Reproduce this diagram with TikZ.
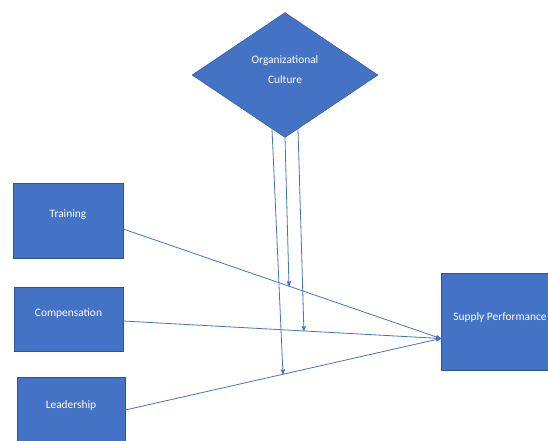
\documentclass[tikz,border=0pt]{standalone}
\usepackage{fontspec}
\setmainfont{Carlito}
\usetikzlibrary{arrows,shapes.geometric}
\definecolor{boxblue}{HTML}{4472C4}
\definecolor{edgeblue}{HTML}{2F528F}

\begin{document}
\begin{tikzpicture}[x=1pt,y=-1pt,>=stealth',shorten >=0pt,thin,
  var node/.style={rectangle,draw=edgeblue,fill=boxblue,text=white,font=\fontsize{11.4}{20}\selectfont,inner sep=0pt,text height=8pt,text depth=#1},
  var node/.default=2pt,
  mod node/.style={diamond,draw=edgeblue,fill=boxblue,inner sep=0pt,minimum width=186pt,minimum height=125pt},
  mod text/.style={text=white,font=\fontsize{11.4}{20}\selectfont,align=center,yshift=5pt},
  link/.style={->,draw=boxblue,line width=0.8pt}]

  \useasboundingbox (0,0) rectangle (548,441);

  \node[var node=15pt,minimum width=110pt,minimum height=75pt] (tr) at (68,220.5) {Training};
  \node[var node=13pt,minimum width=109pt,minimum height=64pt] (co) at (68.5,319) {Compensation};
  \node[var node=9pt,minimum width=108pt,minimum height=64pt] (le) at (71,409) {Leadership};
  \node[var node=10pt,minimum width=118pt,minimum height=97pt] (sp) at (500,321.5) {Supply Performance};
  \node[mod node,label={[mod text]center:{Organizational\\Culture}}] (oc) at (285,75) {};

  \coordinate (sp in) at ([yshift=-17pt]sp.west);
  \coordinate (tr out) at ([yshift=-8.5pt]tr.east);
  \coordinate (co out) at ([yshift=-2pt]co.east);
  \coordinate (le out) at ([yshift=-1pt]le.east);

  \draw[link] (tr out) -- (sp in);
  \draw[link] (co out) -- (sp in);
  \draw[link] (le out) -- (sp in);

  % points where the moderator hits each path
  \path (tr out) -- (sp in) coordinate[pos=0.522] (tr hit);
  \path (co out) -- (sp in) coordinate[pos=0.569] (co hit);
  \path (le out) -- (sp in) coordinate[pos=0.5] (le hit);

  \coordinate (oc left) at ([xshift=-13pt,yshift=8.5pt]oc.south);
  \coordinate (oc right) at ([xshift=13pt,yshift=8.5pt]oc.south);

  \draw[link] (oc left) -- (le hit);
  \draw[link] (oc.south) -- (tr hit);
  \draw[link] (oc right) -- (co hit);
\end{tikzpicture}
\end{document}
